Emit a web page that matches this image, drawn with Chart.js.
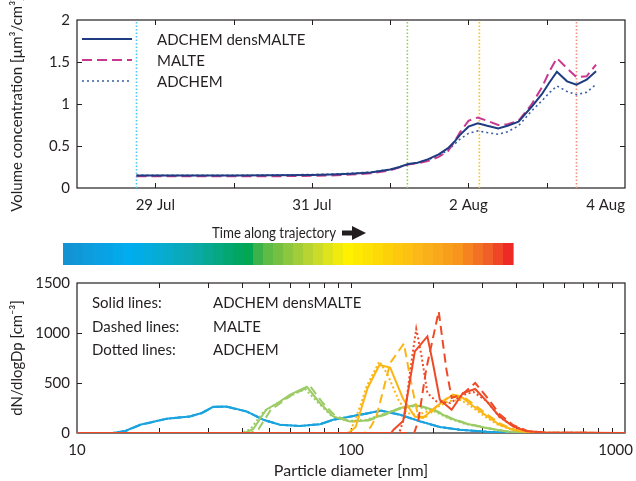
<!DOCTYPE html>
<html>
<head>
<meta charset="utf-8">
<script src="https://cdn.jsdelivr.net/npm/chart.js@4/dist/chart.umd.min.js"></script>
<style>
  body { margin: 0; background: #fff; }
  #wrap { position: relative; width: 636px; height: 481px; }
  #top { position: absolute; left: 0; top: 0; }
  #bottom { position: absolute; left: 0; top: 222px; }
</style>
</head>
<body>
<div id="wrap">
  <canvas id="top" width="636" height="222" style="width:636px;height:222px"></canvas>
  <canvas id="bottom" width="636" height="259" style="width:636px;height:259px"></canvas>
</div>
<script>
// ---- top panel: volume concentration along the trajectory ----
// time in days after 28 Jul 00:00
const trajDays = [0.76, 1.0, 1.5, 2.0, 2.5, 3.0, 3.25, 3.5, 3.75, 4.0, 4.12, 4.23, 4.35, 4.48, 4.62, 4.74,
                  4.82, 4.89, 5.0, 5.12, 5.24, 5.38, 5.5, 5.64, 5.81, 5.94, 6.03, 6.13, 6.26, 6.38, 6.51, 6.63];
const volDensMalte = [0.15, 0.15, 0.15, 0.15, 0.152, 0.155, 0.16, 0.17, 0.185, 0.22, 0.25, 0.285, 0.30, 0.34, 0.40, 0.475,
                      0.55, 0.63, 0.73, 0.77, 0.74, 0.71, 0.74, 0.79, 0.97, 1.12, 1.25, 1.385, 1.27, 1.23, 1.29, 1.39];
const volMalte = [0.14, 0.14, 0.14, 0.14, 0.14, 0.145, 0.15, 0.16, 0.175, 0.21, 0.245, 0.28, 0.295, 0.32, 0.37, 0.44,
                  0.55, 0.66, 0.80, 0.84, 0.80, 0.75, 0.76, 0.80, 1.0, 1.2, 1.38, 1.545, 1.425, 1.32, 1.33, 1.47];
const volAdchem = [0.15, 0.15, 0.15, 0.15, 0.155, 0.16, 0.165, 0.175, 0.19, 0.22, 0.25, 0.28, 0.30, 0.335, 0.39, 0.45,
                   0.52, 0.58, 0.65, 0.68, 0.66, 0.64, 0.67, 0.74, 0.92, 1.04, 1.13, 1.215, 1.15, 1.11, 1.14, 1.235];
const dayLabels = ['28 Jul', '29 Jul', '30 Jul', '31 Jul', '1 Aug', '2 Aug', '3 Aug', '4 Aug'];
// times of the four size distributions below
const sampleDays = [0.76, 4.22, 5.14, 6.38];
const sampleColors = ['#4cc6f3', '#92d050', '#ffc20e', '#f4907a'];

// ---- bottom panel: size distributions, [diameter nm, dN/dlogDp] ----
const blueSolid = [[10,0],[13.5,0],[15,20],[17,83],[21.2,143],[25.8,166],[28.5,200],[31.4,262],[35.1,264],[41.6,216],[47.9,133],
                   [55,83],[65,70],[77,88],[86,133],[108,183],[129,224],[151,183],[179,116],[211,60],[250,33],[313,12],[380,3],[450,0],[1000,0]];
const blueDashed = [[10,0],[13.5,0],[15,18],[17,80],[21.2,141],[25.8,165],[28.5,198],[31.4,260],[35.1,263],[41.6,214],[47.9,131],
                    [55,82],[65,70],[77,87],[86,131],[108,182],[129,222],[151,182],[179,115],[211,60],[250,32],[313,12],[380,3],[450,0],[1000,0]];
const blueDotted = [[10,0],[13.5,0],[15,19],[17,82],[21.2,142],[25.8,166],[28.5,199],[31.4,261],[35.1,263],[41.6,215],[47.9,132],
                    [55,83],[65,70],[77,88],[86,132],[108,183],[129,223],[151,183],[179,116],[211,60],[250,33],[313,12],[380,3],[450,0],[1000,0]];
const greenSolid = [[10,0],[41,0],[44,40],[49,233],[54,300],[60,383],[69,462],[77,300],[86,166],[99,116],[114,126],[131,183],
                    [151,250],[172,280],[199,233],[229,150],[264,93],[313,50],[370,16],[450,3],[1000,0]];
const greenDashed = [[10,0],[43,0],[46,40],[51,233],[56,310],[61,383],[71,466],[79,300],[88,166],[101,116],[116,126],[133,183],
                     [153,250],[174,280],[201,233],[231,150],[266,93],[315,50],[372,16],[450,3],[1000,0]];
const greenDotted = [[10,0],[40,0],[43,40],[48,215],[54,300],[60,370],[68,440],[76,300],[85,170],[98,120],[113,130],[130,185],
                     [150,245],[171,270],[198,225],[228,145],[262,90],[312,48],[368,15],[450,3],[1000,0]];
const yellowSolid = [[10,0],[98,0],[104,60],[115,450],[127,680],[139,655],[155,340],[171,165],[183,150],[205,266],[233,375],
                     [256,350],[279,270],[313,170],[348,85],[390,33],[440,10],[520,0],[1000,0]];
const yellowDashed = [[10,0],[112,0],[118,60],[124,170],[139,700],[156,895],[164,566],[176,160],[190,165],[211,300],[235,385],
                      [258,360],[283,280],[318,175],[352,90],[395,35],[445,10],[520,0],[1000,0]];
const yellowDotted = [[10,0],[97,0],[100,30],[108,266],[114,466],[127,716],[136,583],[149,333],[160,200],[175,180],[200,240],
                      [228,320],[252,330],[276,260],[310,160],[345,80],[390,30],[440,8],[520,0],[1000,0]];
const redSolid = [[10,0],[140,0],[143,33],[155,120],[171,816],[190,966],[199,700],[211,333],[233,233],[256,400],[284,440],
                  [313,316],[348,166],[390,66],[435,20],[500,5],[1000,0]];
const redDashed = [[10,0],[170,0],[176,120],[188,633],[209,1216],[223,633],[233,350],[256,390],[284,500],[313,360],[348,190],
                   [390,80],[440,20],[520,3],[1000,0]];
const redDotted = [[10,0],[150,0],[157,166],[164,600],[173,1040],[181,766],[190,400],[205,316],[230,300],[256,380],[280,410],
                   [313,320],[348,160],[390,70],[440,18],[520,3],[1000,0]];
const sizeTickLabels = [10, 100, 1000];

const ink = '#231f20';
const fontFamily = 'Lato, "Open Sans", sans-serif';
const colBlue = '#1ba3df', colGreen = '#9ccc65', colYellow = '#fbb616', colRed = '#ef4a26';

Chart.defaults.font.family = fontFamily;
Chart.defaults.color = ink;

function toXY(xs, ys) {
  return xs.map((x, i) => ({ x: x, y: ys[i] }));
}
function pairs(list) {
  return list.map(p => ({ x: p[0], y: p[1] }));
}

function drawFrame(chart, xTicks, yTicks) {
  const ctx = chart.ctx, a = chart.chartArea;
  const xs = chart.scales.x, ys = chart.scales.y;
  ctx.save();
  ctx.strokeStyle = ink;
  ctx.lineWidth = 1.2;
  ctx.strokeRect(a.left, a.top, a.right - a.left, a.bottom - a.top);
  ctx.lineWidth = 1;
  ctx.beginPath();
  xTicks.forEach(v => {
    const px = Math.round(xs.getPixelForValue(v)) + 0.5;
    ctx.moveTo(px, a.top); ctx.lineTo(px, a.top + 5);
    ctx.moveTo(px, a.bottom); ctx.lineTo(px, a.bottom - 5);
  });
  yTicks.forEach(v => {
    const py = Math.round(ys.getPixelForValue(v)) + 0.5;
    ctx.moveTo(a.left, py); ctx.lineTo(a.left + 5, py);
    ctx.moveTo(a.right, py); ctx.lineTo(a.right - 5, py);
  });
  ctx.stroke();
  ctx.restore();
}

function fixWidth(w) {
  return function (scale) { scale.width = w; };
}
function fixHeight(h) {
  return function (scale) {
    scale.height = h;
    scale.paddingLeft = 0;
    scale.paddingRight = 0;
  };
}

// ---------------- top chart ----------------
const topLines = [
  { label: 'ADCHEM densMALTE', data: toXY(trajDays, volDensMalte), borderColor: '#1f3c80', borderWidth: 2, borderDash: [] },
  { label: 'MALTE', data: toXY(trajDays, volMalte), borderColor: '#c9388f', borderWidth: 2, borderDash: [10, 5] },
  { label: 'ADCHEM', data: toXY(trajDays, volAdchem), borderColor: '#3a5da8', borderWidth: 1.6, borderDash: [2, 3] }
];
const topMarkers = sampleDays.map((d, i) => ({
  label: 'sample' + i,
  data: [{ x: d, y: 0 }, { x: d, y: 2 }],
  borderColor: sampleColors[i],
  borderWidth: 1.6,
  borderDash: [1.5, 2]
}));

const topPlugin = {
  id: 'topPanel',
  beforeDatasetsDraw(chart) {
    drawFrame(chart, [1, 2, 3, 4, 5, 6], [0.5, 1, 1.5]);
  },
  afterDatasetsDraw(chart) {
    const ctx = chart.ctx;
    const rows = [39, 60, 81];
    chart.data.datasets.slice(0, 3).forEach((ds, i) => {
      ctx.save();
      ctx.strokeStyle = ds.borderColor;
      ctx.lineWidth = ds.borderWidth;
      ctx.setLineDash(ds.borderDash);
      ctx.beginPath();
      ctx.moveTo(82, rows[i]);
      ctx.lineTo(132, rows[i]);
      ctx.stroke();
      ctx.setLineDash([]);
      ctx.fillStyle = ink;
      ctx.font = '15px ' + fontFamily;
      ctx.textBaseline = 'middle';
      ctx.fillText(ds.label, 157, rows[i] + 1);
      ctx.restore();
    });
  }
};

new Chart(document.getElementById('top'), {
  type: 'line',
  data: { datasets: topLines.concat(topMarkers) },
  options: {
    responsive: false,
    animation: false,
    layout: { padding: { top: 20, right: 11, left: 0, bottom: 0 } },
    elements: { point: { radius: 0 }, line: { tension: 0, fill: false } },
    plugins: { legend: { display: false }, tooltip: { enabled: false } },
    scales: {
      x: {
        type: 'linear', min: 0, max: 7,
        grid: { display: false, drawTicks: false },
        border: { display: false },
        afterFit: fixHeight(34),
        ticks: {
          stepSize: 1, autoSkip: false, maxRotation: 0, padding: 8, align: 'inner',
          font: { size: 15 },
          callback: v => (v % 2 === 1 ? dayLabels[v] : '')
        }
      },
      y: {
        min: 0, max: 2,
        grid: { display: false, drawTicks: false },
        border: { display: false },
        afterFit: fixWidth(77),
        ticks: { stepSize: 0.5, padding: 7, font: { size: 15 }, callback: v => String(v) },
        title: {
          display: true, text: 'Volume concentration [µm³/cm³]',
          font: { size: 15 }, padding: { top: 8, bottom: 0 }
        }
      }
    }
  },
  plugins: [topPlugin]
});

// ---------------- bottom chart ----------------
function sizeLine(list, color, style) {
  return {
    data: pairs(list),
    borderColor: color,
    borderWidth: 2,
    borderDash: style === 'dashed' ? [9, 5] : (style === 'dotted' ? [2, 2.5] : [])
  };
}
const sizeLines = [
  sizeLine(redDashed, colRed, 'dashed'),
  sizeLine(redSolid, colRed, 'solid'),
  sizeLine(redDotted, colRed, 'dotted'),
  sizeLine(yellowSolid, colYellow, 'solid'),
  sizeLine(yellowDashed, colYellow, 'dashed'),
  sizeLine(yellowDotted, colYellow, 'dotted'),
  sizeLine(greenSolid, colGreen, 'solid'),
  sizeLine(greenDashed, colGreen, 'dashed'),
  sizeLine(greenDotted, colGreen, 'dotted'),
  sizeLine(blueSolid, colBlue, 'solid'),
  sizeLine(blueDashed, colBlue, 'dashed'),
  sizeLine(blueDotted, colBlue, 'dotted')
];

const barStops = [
  [0.00, [21, 145, 209]], [0.15, [0, 174, 239]], [0.28, [12, 169, 179]], [0.41, [0, 166, 81]],
  [0.44, [76, 183, 72]], [0.50, [141, 198, 63]], [0.56, [199, 217, 45]], [0.63, [255, 242, 0]],
  [0.72, [253, 210, 10]], [0.80, [251, 180, 26]], [0.88, [247, 148, 29]], [0.95, [241, 90, 41]],
  [1.00, [237, 28, 36]]
];
function barColor(f) {
  for (let i = 1; i < barStops.length; i++) {
    if (f <= barStops[i][0]) {
      const a = barStops[i - 1], b = barStops[i];
      const t = (f - a[0]) / (b[0] - a[0]);
      const c = a[1].map((v, k) => Math.round(v + (b[1][k] - v) * t));
      return 'rgb(' + c.join(',') + ')';
    }
  }
  return 'rgb(237,28,36)';
}

const textLegend = [
  ['Solid lines:', 'ADCHEM densMALTE'],
  ['Dashed lines:', 'MALTE'],
  ['Dotted lines:', 'ADCHEM']
];

const bottomPlugin = {
  id: 'bottomPanel',
  beforeDatasetsDraw(chart) {
    const ctx = chart.ctx;
    // time colour bar
    const x0 = 63, x1 = 513, steps = 45, w = (x1 - x0) / steps;
    for (let i = 0; i < steps; i++) {
      ctx.fillStyle = barColor((i + 0.5) / steps);
      ctx.fillRect(x0 + i * w, 21, w + 0.6, 22);
    }
    ctx.save();
    ctx.fillStyle = ink;
    ctx.font = '15px ' + fontFamily;
    ctx.textAlign = 'left';
    ctx.textBaseline = 'middle';
    ctx.fillText('Time along trajectory', 212, 11, 124);
    // arrow
    ctx.fillRect(342, 8.5, 12, 5);
    ctx.beginPath();
    ctx.moveTo(352, 4); ctx.lineTo(366, 11); ctx.lineTo(352, 18); ctx.closePath();
    ctx.fill();
    ctx.restore();

    drawFrame(chart, [20, 30, 40, 50, 60, 70, 80, 90, 100, 200, 300, 400, 500, 600, 700, 800, 900], [500, 1000]);

    // x tick labels
    const xs = chart.scales.x, a = chart.chartArea;
    ctx.save();
    ctx.fillStyle = ink;
    ctx.font = '15px ' + fontFamily;
    ctx.textBaseline = 'middle';
    sizeTickLabels.forEach(v => {
      const txt = String(v);
      const tw = ctx.measureText(txt).width;
      let left = xs.getPixelForValue(v) - tw / 2;
      left = Math.min(left, 633 - tw);
      ctx.fillText(txt, left, a.bottom + 17);
    });
    // text legend
    textLegend.forEach((row, i) => {
      const y = 81.5 + i * 23.5;
      ctx.fillText(row[0], 92, y);
      ctx.fillText(row[1], 213, y);
    });
    ctx.restore();
  }
};

new Chart(document.getElementById('bottom'), {
  type: 'line',
  data: { datasets: sizeLines },
  options: {
    responsive: false,
    animation: false,
    layout: { padding: { top: 61, right: 11, left: 0, bottom: 0 } },
    elements: { point: { radius: 0 }, line: { tension: 0, fill: false } },
    plugins: { legend: { display: false }, tooltip: { enabled: false } },
    scales: {
      x: {
        type: 'logarithmic', min: 10, max: 1000,
        grid: { display: false, drawTicks: false },
        border: { display: false },
        afterFit: fixHeight(48),
        ticks: { display: false },
        title: {
          display: true, text: 'Particle diameter [nm]',
          font: { size: 16 }, padding: { top: 0, bottom: 1 }
        }
      },
      y: {
        min: 0, max: 1500,
        grid: { display: false, drawTicks: false },
        border: { display: false },
        afterFit: fixWidth(77),
        ticks: { stepSize: 500, padding: 7, font: { size: 15 }, callback: v => String(v) },
        title: {
          display: true, text: 'dN/dlogDp [cm⁻³]',
          font: { size: 15 }, padding: { top: 8, bottom: 0 }
        }
      }
    }
  },
  plugins: [bottomPlugin]
});
</script>
</body>
</html>
